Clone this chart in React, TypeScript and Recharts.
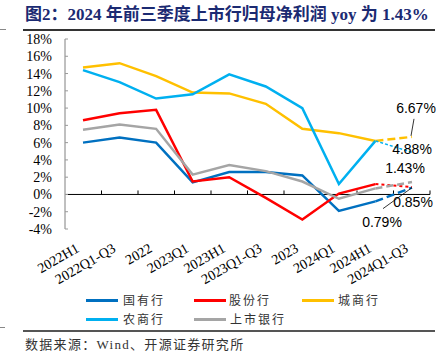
import React from 'react';
import { LineChart, Line, XAxis, YAxis, ReferenceLine, LabelList } from 'recharts';

const categories = ['2022H1', '2022Q1-Q3', '2022', '2023Q1', '2023H1', '2023Q1-Q3', '2023', '2024Q1', '2024H1', '2024Q1-Q3'];
const stateOwned = [6.0, 6.6, 6.0, 1.4, 2.6, 2.6, 2.2, -1.9, -0.8, 0.79];
const jointStock = [8.6, 9.4, 9.8, 1.5, 2.0, -0.4, -2.9, 0.1, 1.2, 0.85];
const cityComm = [14.7, 15.2, 13.7, 11.8, 11.7, 10.5, 7.6, 7.1, 6.2, 6.67];
const ruralComm = [14.4, 13.0, 11.1, 11.6, 13.9, 12.5, 10.0, 1.2, 6.2, 4.88];
const listed = [7.5, 8.1, 7.6, 2.3, 3.4, 2.7, 1.5, -0.5, 0.7, 1.43];
const yTicks = [-4, -2, 0, 2, 4, 6, 8, 10, 12, 14, 16, 18];

const seriesNames = ['国有行', '股份行', '城商行', '农商行', '上市银行'];
const seriesValues = [stateOwned, jointStock, cityComm, ruralComm, listed];
const colors = ['#0070C0', '#FF0000', '#FFC000', '#00B0F0', '#A5A5A5'];
const dashes = ['8 4', '3 3', '8 4', '3 2', '7 4'];
const dashWidths = [2.5, 2, 2.5, 1.5, 2.5];
// label offsets relative to the final point (style only)
const labelOffsets = [
  { dx: -30, dy: 34, lead: true },
  { dx: 1, dy: 15, lead: false },
  { dx: 4, dy: -29, lead: true },
  { dx: 0, dy: -3, lead: false },
  { dx: -7, dy: -14, lead: false },
];

const lastSolid = categories.length - 2;
const data = categories.map((c, i) => {
  const row: any = { cat: c };
  seriesNames.forEach((n, s) => {
    row[n] = i <= lastSolid ? seriesValues[s][i] : null;
    row[n + '_d'] = i >= lastSolid ? seriesValues[s][i] : null;
  });
  return row;
});

const serif = "'Liberation Serif', 'Times New Roman', serif";
const cjk = "'Noto Sans CJK SC', sans-serif";

const XTick = (props: any) => {
  const { x, y, payload } = props;
  const ax = x - 3;
  const ay = y + 14;
  return (
    <text x={ax} y={ay} textAnchor="end" fontFamily={serif} fontSize={14} fill="#000" transform={`rotate(-30, ${ax}, ${ay})`}>
      {payload.value}
    </text>
  );
};

const ZeroLine = (props: any) => {
  const { x1, y1, x2 } = props;
  const n = categories.length;
  const step = (x2 - x1) / n;
  const ticks = [];
  for (let k = 1; k <= n; k++) {
    const tx = x1 + step * k;
    ticks.push(<line key={k} x1={tx} x2={tx} y1={y1} y2={y1 - 4} stroke="#000" strokeWidth={1} />);
  }
  return (
    <g>
      <line x1={x1} x2={x2} y1={y1} y2={y1} stroke="#000" strokeWidth={1} />
      {ticks}
    </g>
  );
};

const makeLabel = (s: number) => (props: any) => {
  const { x, y, index, value } = props;
  if (index !== categories.length - 1 || value == null) return null;
  const o = labelOffsets[s];
  const lx = x + o.dx;
  const ly = y + o.dy;
  const txt = `${value.toFixed(2)}%`;
  let lead = null;
  if (o.lead) {
    if (o.dy < 0) {
      lead = <line x1={lx - 2} y1={ly + 11} x2={x - 1} y2={y - 1} stroke="#000" strokeWidth={0.8} />;
    } else {
      lead = <line x1={lx + 1} y1={ly - 13} x2={x} y2={y} stroke="#000" strokeWidth={0.8} />;
    }
  }
  return (
    <g>
      {lead}
      <text x={lx} y={ly} textAnchor="middle" dominantBaseline="central" fontFamily="'Liberation Sans', Arial, sans-serif" fontSize={14} fill="#000">
        {txt}
      </text>
    </g>
  );
};

const legendRows = [
  [
    { i: 0, lx: 86, tx: 123 },
    { i: 1, lx: 194, tx: 229 },
    { i: 2, lx: 302, tx: 338 },
  ],
  [
    { i: 3, lx: 86, tx: 123 },
    { i: 4, lx: 194, tx: 230 },
  ],
];
const legendY = [300, 319];

export default function App() {
  return (
    <div style={{ position: 'absolute', left: 0, top: 0, width: 447, height: 364, background: '#fff', overflow: 'hidden' }}>
      <div
        style={{
          position: 'absolute',
          left: 25,
          top: 3,
          whiteSpace: 'nowrap',
          fontFamily: "'Liberation Serif', 'Noto Sans CJK SC', serif",
          fontWeight: 'bold',
          fontSize: 17,
          color: '#1B2A72',
          lineHeight: '24px',
        }}
      >
        图2：2024 年前三季度上市行归母净利润 yoy 为 1.43%
      </div>
      <div style={{ position: 'absolute', left: 23, top: 29, width: 412, height: 1.5, background: '#333' }} />
      <div style={{ position: 'absolute', left: 0, top: 29, width: 6, height: 1, background: '#888' }} />
      <div style={{ position: 'absolute', left: 0, top: 0 }}>
        <LineChart width={447} height={294} data={data} margin={{ top: 39, right: 17, bottom: 0, left: 0 }}>
          <XAxis
            dataKey="cat"
            axisLine={false}
            tickLine={false}
            tick={<XTick />}
            interval={0}
            height={65}
            padding={{ left: 18, right: 18 }}
          />
          <YAxis
            width={65}
            domain={[-4, 18]}
            ticks={yTicks}
            interval={0}
            axisLine={{ stroke: '#808080', strokeWidth: 1 }}
            tickLine={{ stroke: '#999' }}
            tickSize={-3}
            tickMargin={16}
            tickFormatter={(v: number) => `${v}%`}
            tick={{ fontFamily: serif, fontSize: 14, fill: '#000' }}
          />
          <ReferenceLine y={0} shape={<ZeroLine />} />
          {seriesNames.map((n, s) => (
            <Line
              key={n}
              dataKey={n}
              type="linear"
              stroke={colors[s]}
              strokeWidth={2.5}
              dot={false}
              activeDot={false}
              isAnimationActive={false}
              connectNulls={false}
            />
          ))}
          {seriesNames.map((n, s) => (
            <Line
              key={n + '_d'}
              dataKey={n + '_d'}
              type="linear"
              stroke={colors[s]}
              strokeWidth={dashWidths[s]}
              strokeDasharray={dashes[s]}
              dot={false}
              activeDot={false}
              isAnimationActive={false}
              legendType="none"
            >
              <LabelList dataKey={n + '_d'} content={makeLabel(s)} />
            </Line>
          ))}
        </LineChart>
      </div>
      {legendRows.map((row, r) =>
        row.map((it) => (
          <React.Fragment key={it.i}>
            <div style={{ position: 'absolute', left: it.lx, top: legendY[r] - 1.5, width: 32, height: 3, background: colors[it.i] }} />
            <div
              style={{
                position: 'absolute',
                left: it.tx,
                top: legendY[r] - 9,
                lineHeight: '18px',
                fontFamily: cjk,
                fontSize: 12,
                letterSpacing: 2,
                color: '#333',
                whiteSpace: 'nowrap',
              }}
            >
              {seriesNames[it.i]}
            </div>
          </React.Fragment>
        ))
      )}
      <div style={{ position: 'absolute', left: 23, top: 330, width: 412, height: 1.5, background: '#555' }} />
      <div style={{ position: 'absolute', left: 0, top: 327, width: 5, height: 1, background: '#888' }} />
      <div
        style={{
          position: 'absolute',
          left: 25,
          top: 336,
          lineHeight: '18px',
          fontFamily: "'Liberation Serif', 'Noto Sans CJK SC', serif",
          fontSize: 13,
          letterSpacing: 1.3,
          color: '#333',
          whiteSpace: 'nowrap',
        }}
      >
        数据来源：Wind、开源证券研究所
      </div>
    </div>
  );
}
